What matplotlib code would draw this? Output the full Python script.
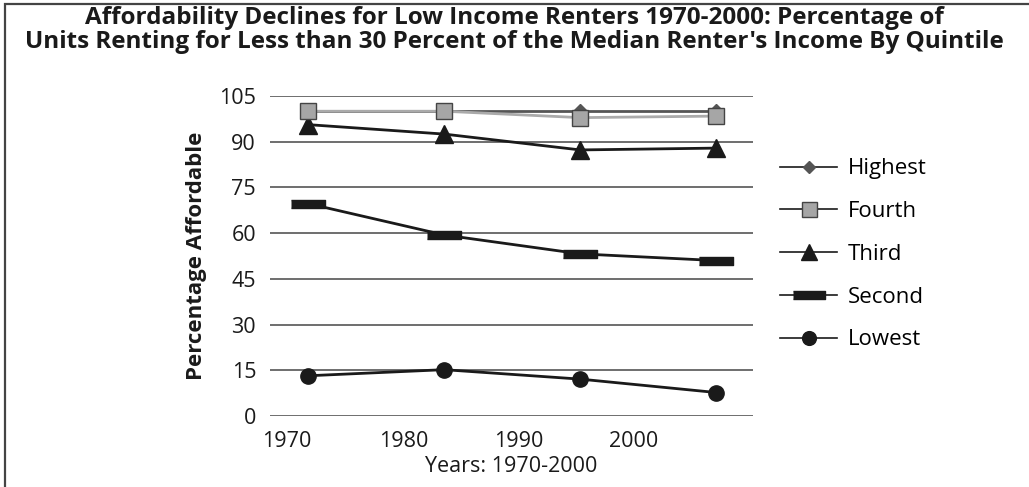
import matplotlib.pyplot as plt
from matplotlib.patches import Rectangle

plt.rcParams['font.family'] = ['Open Sans', 'DejaVu Sans']

years = ['1970', '1980', '1990', '2000']
highest = [100, 100, 100, 100]
fourth = [100, 100, 97.9, 98.4]
third = [95.6, 92.5, 87.3, 87.9]
second = [69.7, 59.4, 53.2, 51.0]
lowest = [13.2, 15.2, 12.1, 7.7]

x = range(len(years))

fig = plt.figure(figsize=(10.29, 4.87), dpi=100)
ax = fig.add_axes([0.2624, 0.1458, 0.4694, 0.6571])

bar = [(-1.9, -0.45), (1.9, -0.45), (1.9, 0.45), (-1.9, 0.45)]

ax.plot(x, highest, color='#555555', lw=2, marker='D', ms=7, mfc='#555555', mec='#555555', label='Highest', zorder=3)
ax.plot(x, fourth, color='#aaaaaa', lw=2, marker='s', ms=12, mfc='#a6a6a6', mec='#444444', mew=1, label='Fourth', zorder=4)
ax.plot(x, third, color='#1a1a1a', lw=2, marker='^', ms=13, mfc='#1a1a1a', mec='#1a1a1a', label='Third', zorder=3)
ax.plot(x, second, color='#1a1a1a', lw=2, marker=bar, ms=25, mfc='#1a1a1a', mec='#1a1a1a', label='Second', zorder=3)
ax.plot(x, lowest, color='#1a1a1a', lw=2, marker='o', ms=11, mfc='#1a1a1a', mec='#1a1a1a', label='Lowest', zorder=3)

ax.set_xlim(-0.28, 3.27)
ax.set_ylim(0, 105)
ax.set_yticks(range(0, 106, 15))
ax.yaxis.grid(True, color='#555555', lw=1.2)
ax.set_axisbelow(True)
for s in ax.spines.values():
    s.set_visible(False)
ax.tick_params(axis='both', length=0, labelsize=15.5, colors='#1a1a1a')
ax.tick_params(axis='y', pad=10)
ax.tick_params(axis='x', pad=11)

# tick labels sit left of the points in the original
ax.set_xticks([-0.155, 0.70, 1.55, 2.39])
ax.set_xticklabels(years)

ax.set_xlabel('Years: 1970-2000', fontsize=15.5, color='#1a1a1a', labelpad=3)
ax.set_ylabel('Percentage Affordable', fontsize=16, fontweight='bold', color='#1a1a1a', labelpad=9)

fig.suptitle("Affordability Declines for Low Income Renters 1970-2000: Percentage of\n"
             "Units Renting for Less than 30 Percent of the Median Renter's Income By Quintile",
             x=0.5, y=0.988, fontsize=17.5, fontweight='bold', color='#1a1a1a', linespacing=1.0)

leg = ax.legend(loc='center left', bbox_to_anchor=(1.0, 0.505), frameon=False, fontsize=16,
                handlelength=2.6, labelspacing=0.98, borderaxespad=0.8, handletextpad=0.45)
for h in leg.legend_handles:
    h.set_linewidth(1.2)
    h.set_color('#1a1a1a')
    h.set_markersize(h.get_markersize() * 0.9)

fig.patches.append(Rectangle((0.005, -0.02), 1.1, 1.011, transform=fig.transFigure,
                             fill=False, edgecolor='#444444', lw=1.6))

fig.savefig('out.png', dpi=100)
